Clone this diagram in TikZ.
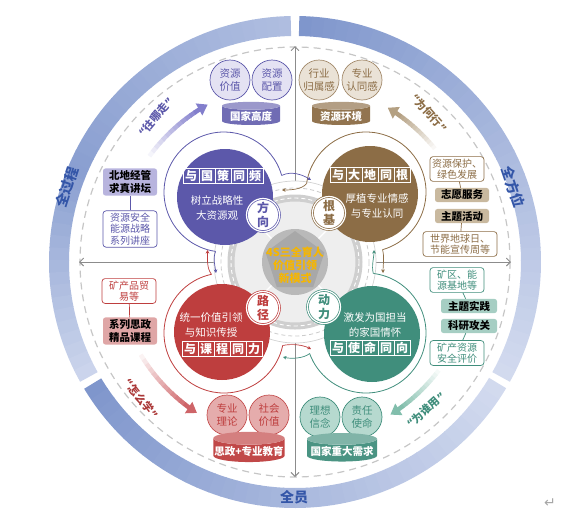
\documentclass[tikz,border=0pt]{standalone}
\usepackage{fontspec}
\setmainfont{Noto Sans CJK SC}
\newfontfamily\symfont{DejaVu Sans}
\usetikzlibrary{arrows.meta,shapes.geometric}

\definecolor{qpur}{RGB}{92,88,170}
\definecolor{qbro}{RGB}{140,109,70}
\definecolor{qred}{RGB}{190,62,62}
\definecolor{qtea}{RGB}{64,142,124}
\definecolor{lpur}{RGB}{228,226,243}
\definecolor{lbro}{RGB}{234,226,214}
\definecolor{lred}{RGB}{229,172,172}
\definecolor{ltea}{RGB}{182,217,207}
\definecolor{spur}{RGB}{184,180,222}
\definecolor{sbro}{RGB}{201,185,159}
\definecolor{sred}{RGB}{223,166,166}
\definecolor{stea}{RGB}{166,206,195}
\definecolor{apur}{RGB}{130,126,204}
\definecolor{abro}{RGB}{180,160,130}
\definecolor{ared}{RGB}{206,100,104}
\definecolor{atea}{RGB}{130,190,172}
\definecolor{bandD}{RGB}{122,146,202}
\definecolor{bandL}{RGB}{228,233,246}
\definecolor{bandT}{RGB}{52,86,168}
\definecolor{axisgray}{RGB}{140,140,140}
\definecolor{hubgold}{RGB}{246,182,0}

\newcommand{\fsz}[2]{\fontsize{#1}{#2}\selectfont}
\newcommand{\qopen}{{\symfont “}}
\newcommand{\qclose}{{\symfont ”}}

\begin{document}
\begin{tikzpicture}[x=1pt,y=-1pt,
  font=\fsz{10}{12.5},
  core/.style={circle,fill=#1,minimum size=96pt,inner sep=0pt},
  ring/.style={draw=#1,line width=0.8pt},
  tchar/.style={draw=white,line width=0.6pt,text=white,minimum width=16pt,
    minimum height=15.5pt,inner sep=0pt,font=\fsz{12}{12}\bfseries},
  body/.style={text=white,align=center,font=\fsz{10.5}{15}},
  badge/.style={circle,fill=white,draw=#1,double=white,double distance=1.2pt,
    line width=0.7pt,minimum size=33pt,inner sep=0pt,text=#1,align=center,
    font=\fsz{12}{14}\bfseries},
  bubble/.style={circle,draw=#1,line width=0.7pt,text=#1,minimum size=40pt,
    inner sep=0pt,align=center,font=\fsz{10.5}{13}},
  plinth/.style={cylinder,shape border rotate=90,aspect=0.18,minimum width=58pt,
    minimum height=21pt,cylinder uses custom fill,cylinder body fill=#1,
    cylinder end fill=#1!70!white,text=white,inner sep=1pt,
    font=\fsz{10.5}{12}\bfseries},
  note/.style={draw=#1,line width=0.7pt,fill=white,rounded corners=3pt,text=#1,
    align=center,minimum width=54pt,inner sep=2pt,font=\fsz{10}{11.5}},
  act/.style={fill=#1,rounded corners=2.5pt,text=black,align=center,
    minimum width=54pt,inner sep=2pt,font=\fsz{10.5}{13}\bfseries},
  flow/.style={#1,line width=0.7pt,-{Stealth[length=3.5pt,width=3.5pt]}},
  ask/.style={font=\fsz{11}{11}\bfseries,text=#1,inner sep=1pt},
  band/.style={font=\fsz{14}{14}\bfseries,text=bandT}
]
  \useasboundingbox (0,0) rectangle (587,523);
  \coordinate (hub) at (295,262);

  % outer band, three segments
  \foreach \i in {0,...,39}{
    \pgfmathsetmacro\a{-89+2.95*\i}
    \pgfmathsetmacro\p{95-2*\i}
    \draw[bandD!\p!bandL,line width=20pt] (hub) ++(\a:236)
      arc[start angle=\a,delta angle=3.1,radius=236];
  }
  \foreach \i in {0,...,39}{
    \pgfmathsetmacro\a{-211-2.95*\i}
    \pgfmathsetmacro\p{95-2*\i}
    \draw[bandD!\p!bandL,line width=20pt] (hub) ++(\a:236)
      arc[start angle=\a,delta angle=-3.1,radius=236];
  }
  \foreach \i in {0,...,39}{
    \pgfmathsetmacro\a{-91-2.95*\i}
    \pgfmathsetmacro\p{\i<22 ? 50+1.6*\i : 85-3.6*(\i-22)}
    \draw[bandD!\p!bandL,line width=20pt] (hub) ++(\a:236)
      arc[start angle=\a,delta angle=-3.1,radius=236];
  }
  \node[band,rotate=72] (lbl-proc) at (67,187) {全过程};
  \node[band,rotate=-71] (lbl-dir) at (513,187) {全方位};
  \node[band] (lbl-all) at (294,497) {全员};

  \draw[gray!45,line width=1.2pt,dash pattern=on 7pt off 5pt] (hub) circle[radius=215];

  % axes
  \coordinate (ax-n) at (295,46);
  \coordinate (ax-s) at (295,477);
  \coordinate (ax-w) at (79,262);
  \coordinate (ax-e) at (511,262);
  \draw[axisgray,line width=0.9pt,
    {Straight Barb[length=4pt,width=8pt]}-{Straight Barb[length=4pt,width=8pt]}]
    (ax-n) -- (ax-s);
  \draw[axisgray,line width=0.9pt,
    {Straight Barb[length=4pt,width=8pt]}-{Straight Barb[length=4pt,width=8pt]}]
    (ax-w) -- (ax-e);

  % hub
  \fill[white] (hub) circle[radius=81];
  \draw[gray!35,line width=0.7pt] (hub) circle[radius=81];
  \draw[gray!40,line width=0.8pt,dash pattern=on 4pt off 3pt] (hub) circle[radius=74];
  \fill[gray!13] (hub) circle[radius=64];
  \draw[gray!38,line width=7pt] (hub) circle[radius=64];
  \draw[white,line width=0.9pt,dash pattern=on 4pt off 3pt] (hub) circle[radius=64];
  \foreach \a in {45,135,225,315}
    \draw[white,line width=1.2pt] (hub) ++(\a:32) -- ++(\a:28);
  \fill[gray!55] (hub) circle[radius=33];
  \node[regular polygon,regular polygon sides=5,fill=gray!68,minimum size=62pt,
    inner sep=0pt] (hub-pent) at (hub) {};
  \node[text=hubgold,align=center,font=\fsz{11}{13}\bfseries] (hub-txt) at (295,265)
    {4S三全育人\\价值引领\\新模式};

  % quadrant outlines
  \draw[ring=qpur] (224,192) ++(-16:60) coordinate (tl-r)
    arc[start angle=-16,end angle=-262,radius=60] coordinate (tl-b);
  \draw[ring=qbro] (366,192) ++(-172:60) coordinate (tr-l)
    arc[start angle=-172,end angle=74,radius=60] coordinate (tr-b);
  \draw[ring=qred] (224,333) ++(-102:60) coordinate (bl-t)
    arc[start angle=-102,end angle=-348,radius=60] coordinate (bl-r);
  \draw[ring=qtea] (366,333) ++(-83:60) coordinate (br-t)
    arc[start angle=-83,end angle=160,radius=60] coordinate (br-l);

  % quadrant cores
  \node[core=qpur] (tl-core) at (225,197) {};
  \node[core=qbro] (tr-core) at (370,194) {};
  \node[core=qred] (bl-core) at (222,332) {};
  \node[core=qtea] (br-core) at (372,334) {};

  \foreach \ch [count=\i] in {与,国,策,同,频}
    \node[tchar] (tl-t\i) at ({223+(\i-3)*16},176) {\ch};
  \foreach \ch [count=\i] in {与,大,地,同,根}
    \node[tchar] (tr-t\i) at ({370+(\i-3)*16},175) {\ch};
  \foreach \ch [count=\i] in {与,课,程,同,力}
    \node[tchar] (bl-t\i) at ({222+(\i-3)*16},349) {\ch};
  \foreach \ch [count=\i] in {与,使,命,同,向}
    \node[tchar] (br-t\i) at ({370+(\i-3)*16},348) {\ch};

  \node[body] (tl-body) at (217,208) {树立战略性\\大资源观};
  \node[body] (tr-body) at (377,206) {厚植专业情感\\与专业认同};
  \node[body] (bl-body) at (211,325) {统一价值引领\\与知识传授};
  \node[body] (br-body) at (375,325) {激发为国担当\\的家国情怀};

  \node[badge=qpur] (tl-badge) at (263,215) {方\\向};
  \node[badge=qbro] (tr-badge) at (329,213) {根\\基};
  \node[badge=qred] (bl-badge) at (263,308) {路\\径};
  \node[badge=qtea] (br-badge) at (324,307) {动\\力};

  % exchange arrows between quadrants
  \draw[flow=qpur] (tl-r) .. controls +(10,-5) and +(-8,-5) .. (311,180);
  \draw[flow=qbro] (tr-l) .. controls +(-5,6) and +(8,0) .. (282,190);
  \draw[flow=qpur] (tl-b) .. controls +(-3,7) and +(-1,-7) .. (216,273);
  \draw[flow=qred] (bl-t) .. controls +(-5,-6) and +(0,8) .. (207.5,250);
  \draw[flow=qred] (bl-r) .. controls +(10,-2) and +(-8,-4) .. (311,349);
  \draw[flow=qtea] (br-l) .. controls +(-6,5) and +(8,2) .. (283,357);
  \draw[flow=qbro] (tr-b) .. controls +(2,7) and +(0,-7) .. (383,273);
  \draw[flow=qtea] (br-t) .. controls +(-2,-7) and +(0,7) .. (374,250);

  % outer goals
  \node[bubble=qpur,fill=lpur] (tl-b1) at (230,80) {资源\\价值};
  \node[bubble=qpur,fill=lpur] (tl-b2) at (272,80) {资源\\配置};
  \node[plinth=qpur!88!white] (tl-base) at (251,116) {国家高度};
  \node[bubble=qbro!80!white,fill=lbro,text=qbro] (tr-b1) at (319,80) {行业\\归属感};
  \node[bubble=qbro!80!white,fill=lbro,text=qbro] (tr-b2) at (362,80) {专业\\认同感};
  \node[plinth=qbro!95!white] (tr-base) at (341,116) {资源环境};
  \node[bubble=qred!90!white,fill=lred,text=qred] (bl-b1) at (227,415) {专业\\理论};
  \node[bubble=qred!90!white,fill=lred,text=qred] (bl-b2) at (269,415) {社会\\价值};
  \node[plinth=qred!95!white,minimum width=69pt] (bl-base) at (249,451) {思政+专业教育};
  \node[bubble=qtea,fill=ltea] (br-b1) at (320,417) {理想\\信念};
  \node[bubble=qtea,fill=ltea] (br-b2) at (362,417) {责任\\使命};
  \node[plinth=qtea!95!white,minimum width=70pt] (br-base) at (342,451) {国家重大需求};

  % guiding arrows
  \foreach \aS/\aE/\col in {-144/-119/apur,-39/-59/abro,-211/-237/ared,37/58/atea}{
    \pgfmathsetmacro\aM{\aE-5*sign(\aE-\aS)}
    \pgfmathsetmacro\dd{(\aM-\aS)/12*1.15}
    \foreach \k in {0,...,11}{
      \pgfmathsetmacro\aa{\aS+(\aM-\aS)*\k/12}
      \pgfmathsetmacro\p{8+\k*7.5}
      \draw[\col!\p!white,line width=4.5pt] (hub) ++(\aa:180)
        arc[start angle=\aa,delta angle=\dd,radius=180];
    }
    \draw[\col,line width=4.5pt,-{Triangle[length=10pt,width=13pt]}] (hub) ++(\aM:180)
      arc[start angle=\aM,end angle=\aE,radius=180];
  }
  \node[ask=qpur,rotate=50] (ask-tl) at (156,117) {\qopen 往哪走\qclose};
  \node[ask=qbro,rotate=-48] (ask-tr) at (429,113) {\qopen 为何行\qclose};
  \node[ask=qred!90!black,rotate=-52] (ask-bl) at (141,399) {\qopen 怎么学\qclose};
  \node[ask=qtea,rotate=42] (ask-br) at (426,410) {\qopen 为谁用\qclose};

  % practice boxes
  \node[act=spur] (tl-forum) at (130,182) {北地经管\\求真讲坛};
  \node[note=qpur] (tl-talks) at (130,229) {资源安全\\能源战略\\系列讲座};
  \draw[qpur,line width=0.7pt] (tl-forum) -- (tl-talks);

  \node[note=qbro] (tr-green) at (457,169) {资源保护、\\绿色发展};
  \node[act=sbro] (tr-vol) at (462,195) {志愿服务};
  \node[act=sbro] (tr-theme) at (462,216) {主题活动};
  \node[note=qbro,minimum width=74pt] (tr-days) at (460,244) {世界地球日、\\节能宣传周等};
  \draw[qbro,line width=0.7pt] (tr-green) -- (tr-vol);
  \draw[qbro,line width=0.7pt] (tr-theme) -- (tr-days);

  \node[note=qred] (bl-trade) at (129,291) {矿产品贸\\易等};
  \node[act=sred] (bl-course) at (130,331) {系列思政\\精品课程};
  \draw[qred,line width=0.7pt] (bl-trade) -- (bl-course);

  \node[note=qtea] (br-site) at (457,280) {矿区、能\\源基地等};
  \node[act=stea,minimum width=56pt] (br-prac) at (469,306) {主题实践};
  \node[act=stea,minimum width=56pt] (br-res) at (469,326) {科研攻关};
  \node[note=qtea] (br-eval) at (457,353) {矿产资源\\安全评价};
  \draw[qtea,line width=0.7pt] (br-site) -- (br-prac);
  \draw[qtea,line width=0.7pt] (br-res) -- (br-eval);

  \node[text=gray!70,font=\symfont\fsz{14}{14}] (ret) at (550,503) {↵};
\end{tikzpicture}
\end{document}
